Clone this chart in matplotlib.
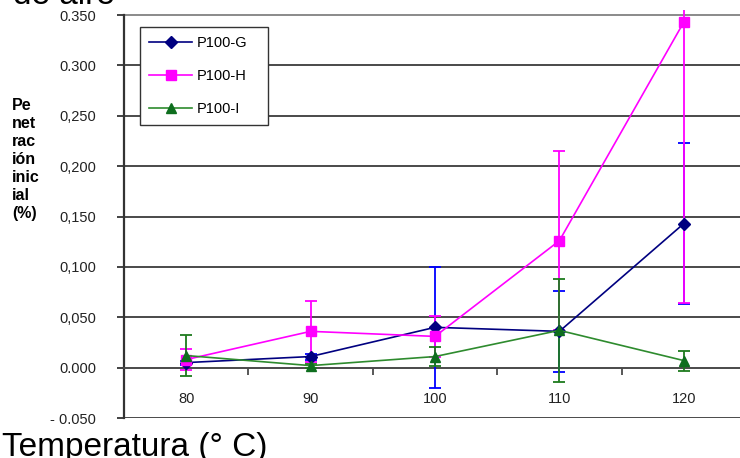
import matplotlib
matplotlib.use("Agg")
import matplotlib.pyplot as plt
import numpy as np

plt.rcParams['font.family'] = ['Liberation Sans', 'DejaVu Sans']

categories = ["80", "90", "100", "110", "120"]
g_vals = [0.005, 0.011, 0.040, 0.036, 0.143]
g_err = [0.002, 0.003, 0.060, 0.040, 0.080]
h_vals = [0.008, 0.036, 0.031, 0.126, 0.343]
h_err = [0.010, 0.030, 0.020, 0.089, 0.279]
i_vals = [0.012, 0.002, 0.011, 0.037, 0.007]
i_err = [0.020, 0.002, 0.009, 0.051, 0.010]
series_names = ["P100-G", "P100-H", "P100-I"]
ytick_vals = [-0.05, 0.0, 0.05, 0.10, 0.15, 0.20, 0.25, 0.30, 0.35]
ytick_labels = ["- 0.050", "0.000", "0,050", "0,100", "0,150", "0,200", "0,250", "0.300", "0.350"]

fig = plt.figure(figsize=(7.4, 4.58), dpi=100)
W, H = 740, 458
left_px, right_px, top_px, bottom_px = 124, 746, 10, 418
ax = fig.add_axes([left_px / W, 1 - bottom_px / H, (right_px - left_px) / W, (bottom_px - top_px) / H])

x = np.arange(len(categories))

# gridlines
for v in ytick_vals:
    if v == 0.0:
        continue
    ax.axhline(v, color='#8a8a8a' if v == 0.35 else '#4a4a4a', lw=1.4, zorder=1)

lw = 1.2
elw = 1.3
cap = 4.3
ax.errorbar(x, g_vals, yerr=g_err, fmt='none', ecolor='#0000FF', elinewidth=elw, capsize=cap, capthick=elw, zorder=3)
ax.plot(x, g_vals, color='#000080', lw=lw, marker='D', ms=6.5, mfc='#000080', mec='#000080', label=series_names[0], zorder=4)
ax.errorbar(x, h_vals, yerr=h_err, fmt='none', ecolor='#FF00FF', elinewidth=elw, capsize=cap, capthick=elw, zorder=3)
ax.plot(x, h_vals, color='#FF00FF', lw=lw, marker='s', ms=7, mfc='#FF00FF', mec='#FF00FF', label=series_names[1], zorder=4)
ax.errorbar(x, i_vals, yerr=i_err, fmt='none', ecolor='#1E7B1E', elinewidth=elw, capsize=cap, capthick=elw, zorder=3)
ax.plot(x, i_vals, color='#2E8B2E', lw=lw, marker='^', ms=7.5, mfc='#0E6E1E', mec='#0E6E1E', label=series_names[2], zorder=4)

ax.set_xlim(-0.5, len(categories) - 0.5)
ax.set_ylim(-0.05, 0.355)

for s in ['top', 'right']:
    ax.spines[s].set_visible(False)
ax.spines['left'].set_color('#333333')
ax.spines['left'].set_linewidth(1.6)
ax.spines['left'].set_bounds(-0.05, 0.35)
ax.spines['bottom'].set_position(('data', 0))
ax.spines['bottom'].set_color('#4a4a4a')
ax.spines['bottom'].set_linewidth(1.4)

ax.set_yticks(ytick_vals)
ax.set_yticklabels(ytick_labels)
ax.tick_params(axis='y', direction='out', length=5, width=1.3, color='#333333', pad=15, labelsize=10.5, labelcolor='#222222')

ax.set_xticks(x)
ax.set_xticklabels(categories)
ax.set_xticks(x[:-1] + 0.5, minor=True)
ax.tick_params(axis='x', which='major', length=0, pad=17.5, labelsize=10.5, labelcolor='#222222')
ax.tick_params(axis='x', which='minor', direction='out', length=5, width=1.3, color='#4a4a4a')

ax.patch.set_visible(False)

leg = ax.legend(loc='upper left', bbox_to_anchor=(140 / W, 1 - 125 / H, 128 / W, 98 / H),
                bbox_transform=fig.transFigure, mode='expand',
                fontsize=10.5, frameon=True, fancybox=False, borderpad=0.62, labelspacing=1.29,
                handlelength=2.95, handletextpad=0.35, borderaxespad=0)
leg.get_frame().set_edgecolor('#333333')
leg.get_frame().set_linewidth(1.0)
leg.get_frame().set_facecolor('white')
leg.get_frame().set_alpha(1)

fig.text(12 / W, 1 - 160 / H, "Pe\nnet\nrac\nión\ninic\nial\n(%)", ha='left', va='center',
         fontsize=11.5, fontweight='bold', linespacing=1.25, multialignment='left')

fig.text(2 / W, 2 / H, "Temperatura (° C)", ha='left', va='baseline', fontsize=24)
fig.text(13 / W, 1 - 4 / H, "de aire", ha='left', va='baseline', fontsize=24)

fig.savefig("out.png", dpi=100)
